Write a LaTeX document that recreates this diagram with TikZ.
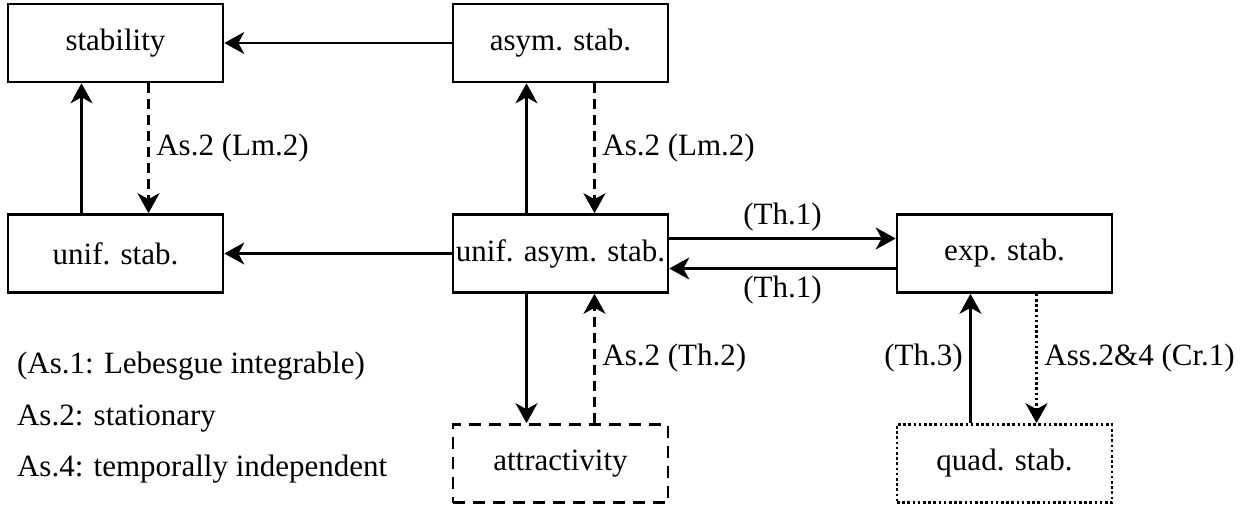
\documentclass[tikz,border=0pt]{standalone}
\usepackage{fontspec}
\setmainfont{Liberation Serif}
\newfontfamily\figfont{Liberation Serif}
\usetikzlibrary{arrows.meta, positioning}

\begin{document}
\begin{tikzpicture}[x=0.5pt, y=-0.5pt,
    >={Stealth[length=10pt, width=11pt, inset=3pt]},
    every node/.style={font=\figfont\fontsize{15.5}{18}\selectfont},
    box/.style={draw, line width=1.3pt, minimum width=107.5pt, minimum height=39pt, inner sep=0pt},
    link/.style={->, line width=1.2pt},
    hyp/.style={->, line width=1.2pt, dash pattern=on 5pt off 3pt},
    quadlink/.style={->, line width=1.3pt, dash pattern=on 1.3pt off 1.3pt}]
    \useasboundingbox (0,0) rectangle (1255,508);

    \node[box] (stab) at (115.5, 43) {stability};
    \node[box] (asym) at (560.5, 43) {asym. stab.};
    \node[box] (ustab) at (115.5, 253.5) {unif. stab.};
    \node[box] (uas) at (560.5, 253.5) {unif. asym. stab.};
    \node[box] (exps) at (1004.5, 253.5) {exp. stab.};
    \node[box, dash pattern=on 6pt off 4pt] (attr) at (560.5, 463.5) {attractivity};
    \node[box, line width=1.3pt, dash pattern=on 1.3pt off 1.3pt] (quad) at (1004.5, 463.5) {quad. stab.};

    \draw[link] (asym) -- (stab);
    \draw[link] (uas) -- (ustab);
    \draw[link] ([xshift=-17pt]ustab.north) -- ([xshift=-17pt]stab.south);
    \draw[hyp] ([xshift=16.5pt]stab.south) -- node[right] {As.2 (Lm.2)} ([xshift=16.5pt]ustab.north);
    \draw[link] ([xshift=-17pt]uas.north) -- ([xshift=-17pt]asym.south);
    \draw[hyp] ([xshift=17pt]asym.south) -- node[right] {As.2 (Lm.2)} ([xshift=17pt]uas.north);
    \draw[link] ([yshift=7.5pt]uas.east) -- node[above] {(Th.1)} ([yshift=7.5pt]exps.west);
    \draw[link] ([yshift=-7.5pt]exps.west) -- node[below] {(Th.1)} ([yshift=-7.5pt]uas.east);
    \draw[link] ([xshift=-17pt]uas.south) -- ([xshift=-17pt]attr.north);
    \draw[hyp] ([xshift=17pt]attr.north) -- node[right] {As.2 (Th.2)} ([xshift=17pt]uas.south);
    \draw[link] ([xshift=-17pt]quad.north) -- node[left] {(Th.3)} ([xshift=-17pt]exps.south);
    \draw[quadlink] ([xshift=16pt]exps.south) -- node[right] {Ass.2\&4 (Cr.1)} ([xshift=16pt]quad.north);

    % assumptions
    \node[anchor=base west] (note1) at (10, 373) {(As.1: Lebesgue integrable)};
    \node[anchor=base west] (note2) at (10, 425) {As.2: stationary};
    \node[anchor=base west] (note3) at (10, 476) {As.4: temporally independent};
\end{tikzpicture}
\end{document}
